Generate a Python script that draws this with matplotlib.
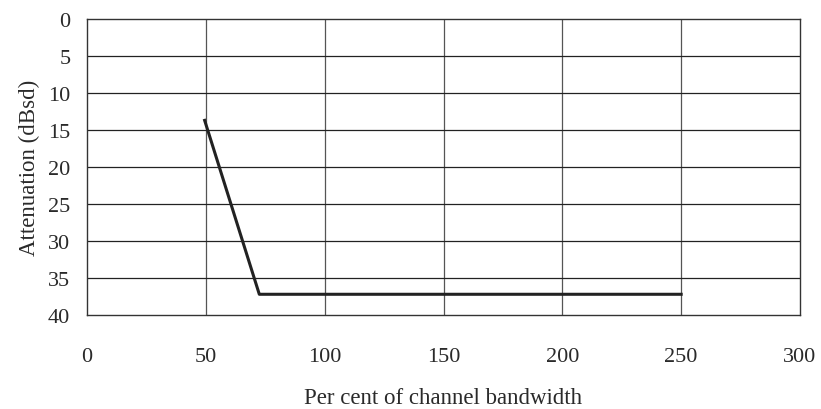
import matplotlib.pyplot as plt

# mask points: per cent of channel bandwidth vs attenuation
bandwidth = [49.5, 72.5, 250]
attenuation = [13.7, 37.2, 37.2]

x_ticks = [0, 50, 100, 150, 200, 250, 300]
y_ticks = [0, 5, 10, 15, 20, 25, 30, 35, 40]

plt.rcParams['font.family'] = ['Liberation Serif', 'DejaVu Serif']
plt.rcParams['font.size'] = 16

fig = plt.figure(figsize=(8.21, 4.10), dpi=100)
ax = fig.add_axes([87 / 821, 1 - 316 / 410, 713 / 821, 296 / 410])

ax.plot(bandwidth, attenuation, color='#222222', linewidth=2.2, zorder=3)

ax.set_xlim(0, 300)
ax.set_ylim(40, 0)
ax.set_xticks(x_ticks)
ax.set_yticks(y_ticks)

for x in x_ticks[1:-1]:
    ax.axvline(x, color='#555555', linewidth=0.9, zorder=1)
for y in y_ticks[1:-1]:
    ax.axhline(y, color='#222222', linewidth=0.9, zorder=1)

for s in ax.spines.values():
    s.set_color('#333333')
    s.set_linewidth(1.0)

ax.tick_params(axis='x', length=0, pad=23, colors='#2a2a2a')
ax.tick_params(axis='y', length=0, pad=12, colors='#2a2a2a')

ax.set_xlabel('Per cent of channel bandwidth', fontsize=16.5, labelpad=15, color='#2a2a2a')
ax.set_ylabel('Attenuation (dBsd)', fontsize=16.5, labelpad=6, color='#2a2a2a')

fig.savefig('out.png', dpi=100)
